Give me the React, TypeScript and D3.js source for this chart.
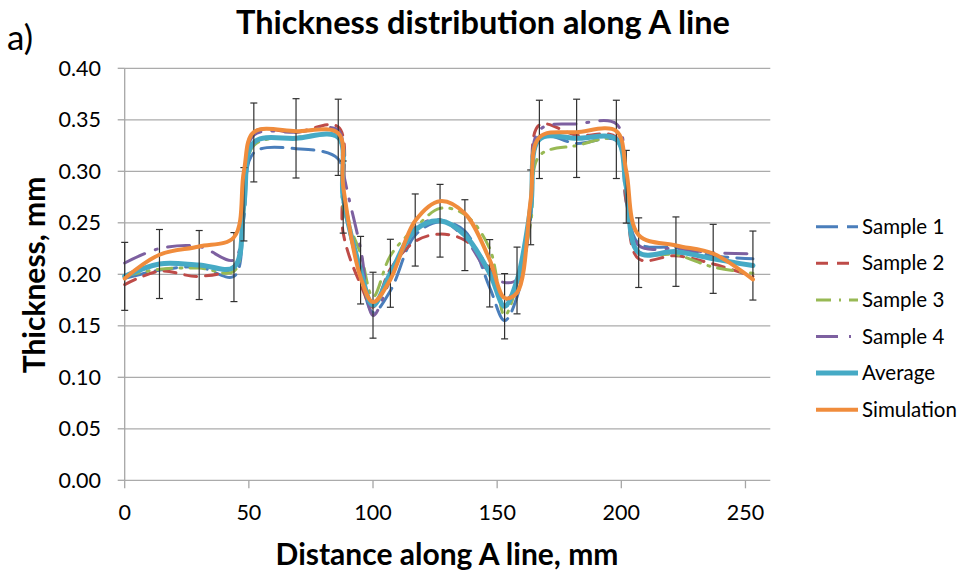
import React from 'react';
import * as d3 from 'd3';

// Measurement positions along the A line (mm)
const xs = [0, 14, 30, 44, 48, 52, 69, 86, 88, 95, 100, 107, 117, 127, 137, 147, 153, 158, 163.5, 167, 182, 198, 202, 207, 222, 237, 253];

const sample1 = [0.196, 0.204, 0.207, 0.198, 0.255, 0.318, 0.322, 0.312, 0.27, 0.2, 0.163, 0.184, 0.238, 0.251, 0.242, 0.187, 0.155, 0.178, 0.255, 0.334, 0.327, 0.330, 0.27, 0.23, 0.226, 0.218, 0.215];
const sample2 = [0.19, 0.203, 0.198, 0.208, 0.27, 0.338, 0.338, 0.343, 0.24, 0.19, 0.168, 0.205, 0.232, 0.239, 0.233, 0.205, 0.175, 0.19, 0.27, 0.345, 0.335, 0.333, 0.27, 0.215, 0.218, 0.21, 0.198];
const sample3 = [0.198, 0.205, 0.206, 0.203, 0.262, 0.325, 0.333, 0.332, 0.265, 0.22, 0.178, 0.218, 0.245, 0.264, 0.258, 0.225, 0.16, 0.19, 0.25, 0.315, 0.325, 0.33, 0.28, 0.222, 0.219, 0.207, 0.201];
const sample4 = [0.211, 0.225, 0.227, 0.214, 0.28, 0.335, 0.338, 0.34, 0.3, 0.225, 0.16, 0.195, 0.245, 0.253, 0.235, 0.2, 0.192, 0.195, 0.26, 0.34, 0.346, 0.346, 0.29, 0.228, 0.225, 0.221, 0.22];
const average = [0.198, 0.210, 0.209, 0.207, 0.268, 0.328, 0.332, 0.333, 0.275, 0.204, 0.170, 0.201, 0.243, 0.252, 0.238, 0.201, 0.169, 0.194, 0.265, 0.331, 0.332, 0.331, 0.285, 0.221, 0.222, 0.215, 0.2085];
const errorBar = [0.033, 0.0335, 0.0335, 0.0335, 0.0356, 0.0383, 0.0385, 0.037, 0.035, 0.0328, 0.032, 0.033, 0.035, 0.0353, 0.0344, 0.0327, 0.0317, 0.0324, 0.0363, 0.038, 0.038, 0.038, 0.0353, 0.0338, 0.0337, 0.0335, 0.0335];
const simulation = [0.196, 0.219, 0.227, 0.236, 0.3, 0.338, 0.339, 0.337, 0.285, 0.197, 0.173, 0.195, 0.252, 0.271, 0.259, 0.214, 0.177, 0.182, 0.272, 0.333, 0.338, 0.339, 0.30, 0.238, 0.228, 0.22, 0.195];

const yTicks = [0, 0.05, 0.1, 0.15, 0.2, 0.25, 0.3, 0.35, 0.4];
const xTicks = [0, 50, 100, 150, 200, 250];

const seriesNames = ['Sample 1', 'Sample 2', 'Sample 3', 'Sample 4', 'Average', 'Simulation'];
const seriesData = [sample1, sample2, sample3, sample4, average, simulation];
const seriesColors = ['#4a7ebb', '#be4b48', '#98b954', '#7d60a0', '#46aac5', '#f08c3c'];
const seriesWidths = [3, 3, 3, 3, 5, 4];
const seriesDash = ['22,9', '12,9', '15,8,2,8', '22,11,2,11', null, null];

const FONT = 'Lato, "Open Sans", sans-serif';

export default function App() {
  const left = 124.7, right = 770.3, top = 68.3, bottom = 480.3;
  const x = d3.scaleLinear().domain([0, 260]).range([left, right]);
  const y = d3.scaleLinear().domain([0, 0.4]).range([bottom, top]);
  const line = d3
    .line<number>()
    .x((_, i) => x(xs[i]))
    .y((d) => y(d))
    .curve(d3.curveCatmullRom.alpha(0.5));

  const legendY0 = 226.7, legendStep = 36.6;

  const renderSeries = (i: number) => (
    <path
      key={seriesNames[i]}
      d={line(seriesData[i]) || ''}
      fill="none"
      stroke={seriesColors[i]}
      strokeWidth={seriesWidths[i]}
      strokeDasharray={seriesDash[i] || undefined}
      strokeLinecap="round"
      strokeLinejoin="round"
    />
  );

  return (
    <div style={{ position: 'absolute', left: 0, top: 0, width: 966, height: 572 }}>
      <svg width={966} height={572} style={{ display: 'block', background: '#fff' }}>
        {/* gridlines */}
        {yTicks.map((t) => (
          <line key={'g' + t} x1={left} x2={right} y1={y(t)} y2={y(t)} stroke="#ababab" strokeWidth={1.3} />
        ))}
        {/* y axis */}
        <line x1={left} x2={left} y1={top} y2={bottom} stroke="#a6a6a6" strokeWidth={1.3} />
        {yTicks.map((t) => (
          <g key={'yt' + t}>
            <line x1={left - 7} x2={left} y1={y(t)} y2={y(t)} stroke="#a6a6a6" strokeWidth={1.3} />
            <text x={101} y={y(t)} dy="0.35em" textAnchor="end" fontFamily={FONT} fontSize={21.5} fill="#000">
              {t.toFixed(2)}
            </text>
          </g>
        ))}
        {/* x axis */}
        {xTicks.map((t) => (
          <g key={'xt' + t}>
            <line x1={x(t)} x2={x(t)} y1={bottom} y2={bottom + 8} stroke="#a6a6a6" strokeWidth={1.3} />
            <text x={x(t)} y={512} dy="0.35em" textAnchor="middle" fontFamily={FONT} fontSize={21.5} fill="#000">
              {t}
            </text>
          </g>
        ))}

        {/* sample lines */}
        {[0, 1, 2, 3].map(renderSeries)}
        {renderSeries(4)}
        {/* error bars on average */}
        {xs.map((xv, i) => {
          const cx = x(xv);
          const y1 = y(average[i] + errorBar[i]);
          const y2 = y(average[i] - errorBar[i]);
          return (
            <g key={'e' + i} stroke="#303030" strokeWidth={1.2}>
              <line x1={cx} x2={cx} y1={y1} y2={y2} />
              <line x1={cx - 3.5} x2={cx + 3.5} y1={y1} y2={y1} />
              <line x1={cx - 3.5} x2={cx + 3.5} y1={y2} y2={y2} />
            </g>
          );
        })}
        {renderSeries(5)}

        {/* legend */}
        {seriesNames.map((name, i) => {
          const ly = legendY0 + i * legendStep;
          return (
            <g key={'l' + name}>
              <line
                x1={816}
                x2={858}
                y1={ly}
                y2={ly}
                stroke={seriesColors[i]}
                strokeWidth={seriesWidths[i]}
                strokeDasharray={seriesDash[i] || undefined}
              />
              <text x={862} y={ly} dy="0.35em" fontFamily={FONT} fontSize={20.5} fill="#000">
                {name}
              </text>
            </g>
          );
        })}

        {/* titles */}
        <text x={483} y={34} textAnchor="middle" fontFamily={FONT} fontWeight="bold" fontSize={32.5} fill="#000">
          Thickness distribution along A line
        </text>
        <text x={7} y={50} fontFamily={FONT} fontSize={35} fill="#000">
          a)
        </text>
        <text x={447} y={565} textAnchor="middle" fontFamily={FONT} fontWeight="bold" fontSize={30} fill="#000">
          Distance along A line, mm
        </text>
        <text
          transform={`translate(45,275) rotate(-90)`}
          textAnchor="middle"
          fontFamily={FONT}
          fontWeight="bold"
          fontSize={30}
          fill="#000"
        >
          Thickness, mm
        </text>
      </svg>
    </div>
  );
}
